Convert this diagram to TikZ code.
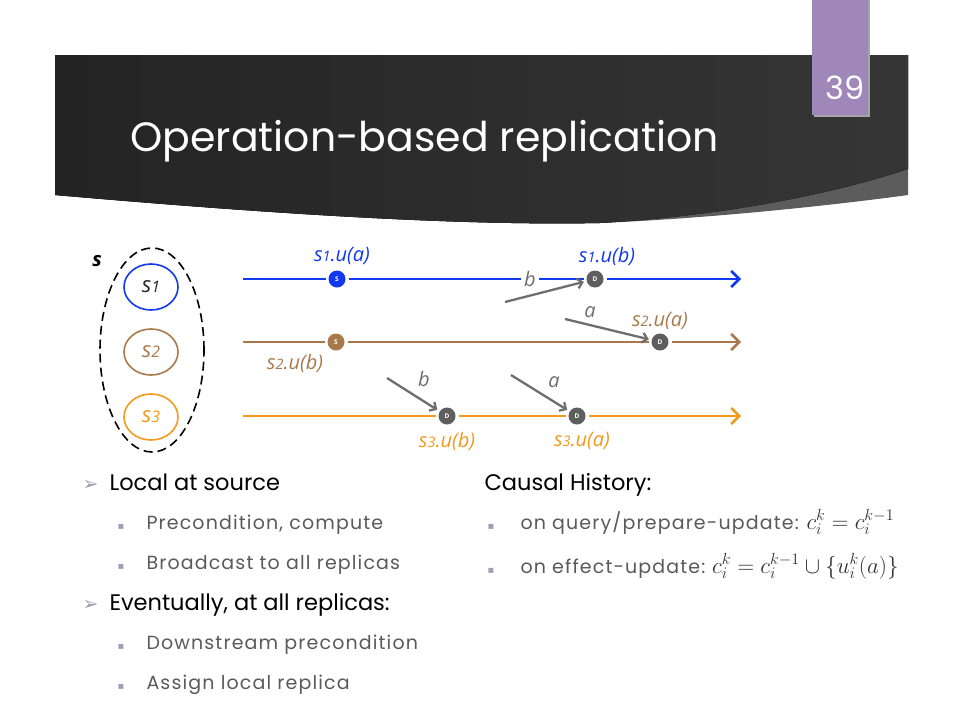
\RequirePackage{fix-cm}
\documentclass[tikz,border=0pt]{standalone}
\usepackage{fontspec}
\usetikzlibrary{positioning,arrows.meta,shapes.geometric}

\newfontfamily\gill{Open Sans}
\newfontfamily\symb{DejaVu Sans}
\newfontfamily\gothic{Poppins}
\newfontfamily\gothicwide[LetterSpace=6]{Poppins}
% small digits in place of old-style figures
\makeatletter
\newcommand\osf[1]{{\fontsize{\the\dimexpr.72\dimexpr\f@size pt\relax\relax}{0pt}\selectfont#1}}
\makeatother

\definecolor{bannerlight}{HTML}{5C5C5C}
\definecolor{tabpurple}{HTML}{9F87BA}
\definecolor{blueline}{HTML}{1238F0}
\definecolor{brownline}{HTML}{A87A4B}
\definecolor{orangeline}{HTML}{F39A1C}
\definecolor{msggray}{HTML}{6E6E6E}
\definecolor{dotgray}{HTML}{5E5E5E}
\definecolor{bulletgray}{HTML}{A39DB3}
\definecolor{subtext}{HTML}{5A5A5A}

\begin{document}
\begin{tikzpicture}[x=1pt,y=-1pt,
replica/.style={ellipse, line width=1.6pt, minimum width=54pt, minimum height=46pt, font=\gill\itshape\fontsize{22}{22}\selectfont},
evt/.style={circle, inner sep=0pt, minimum size=17pt, outer sep=3pt, text=white, font=\gill\bfseries\fontsize{6.5}{6.5}\selectfont},
lab/.style={font=\gill\itshape\fontsize{20}{20}\selectfont, inner sep=1pt},
msglab/.style={lab, text=msggray, fill=white, inner sep=3pt},
tl/.style={line width=2.5pt},
tlend/.style={tl, -{Straight Barb[length=8pt,width=16pt]}},
msg/.style={draw=msggray, line width=2.3pt, -{Straight Barb[length=5pt,width=10pt]}},
head/.style={font=\gothic\fontsize{22.5}{22.5}\selectfont, anchor=base west},
item/.style={font=\gothicwide\fontsize{19}{19}\selectfont, text=subtext, anchor=base west},
bul/.style={font=\symb\fontsize{19}{19}\selectfont, text=bulletgray, anchor=base west},
sq/.style={font=\symb\fontsize{10}{10}\selectfont, text=bulletgray, anchor=base west},
formula/.style={font=\fontsize{23}{23}\selectfont, text=black!80, anchor=base west, inner sep=0pt}
]
\useasboundingbox (0,0) rectangle (960,720);
\fill[white] (0,0) rectangle (960,720);

% title banner
\fill[bannerlight] (55,55) -- (908,55) -- (908,195)
  .. controls (850,203) and (720,218) .. (600,223)
  .. controls (450,226) and (250,212) .. (55,195) -- cycle;
\fill[left color=black!86, right color=black!79] (55,55) -- (908,55) -- (908,169)
  .. controls (830,195) and (720,216) .. (600,223)
  .. controls (450,226) and (250,212) .. (55,195) -- cycle;
\fill[black!35] (814,0) rectangle (870,117);
\fill[tabpurple] (812,0) rectangle (868,115);
\node[text=white, font=\gothic\fontsize{32}{32}\selectfont] (pagenum) at (845,88) {39};
\node[text=white, anchor=base west, font=\gothic\fontsize{41}{41}\selectfont] (title) at (127,151) {Operation-based replication};

% replica set
\node[draw, ellipse, dashed, dash pattern=on 9pt off 5pt, line width=1.6pt, minimum width=104pt, minimum height=204pt] (set) at (152,350) {};
\node[lab, font=\gill\itshape\bfseries\fontsize{20}{20}\selectfont] (setname) at (97,261) {s};
\node[replica, draw=blueline, text=black!85] (rep1) at (151,287) {s\osf{1}};
\node[replica, draw=brownline, text=brownline] (rep2) at (151,352) {s\osf{2}};
\node[replica, draw=orangeline, text=orangeline] (rep3) at (151,417) {s\osf{3}};

% timelines
\coordinate (start1) at (243,279);
\coordinate (end1) at (741,279);
\coordinate (start2) at (243,342);
\coordinate (end2) at (741,342);
\coordinate (start3) at (243,416);
\coordinate (end3) at (741,416);

\node[evt, fill=blueline](s1ua) at (337,279) {S};
\node[msglab](msgb1) at (530,279) {b};
\node[evt, fill=dotgray](s1ub) at (595,279) {D};
\node[evt, fill=brownline](s2ub) at (336,342) {S};
\node[evt, fill=dotgray](s2ua) at (660,342) {D};
\node[evt, fill=dotgray](s3ub) at (447,416) {D};
\node[evt, fill=dotgray](s3ua) at (577,416) {D};

\draw[tl, blueline] (start1) -- (s1ua) (s1ua) -- (msgb1) (msgb1) -- (s1ub);
\draw[tlend, blueline] (s1ub) -- (end1);
\draw[tl, brownline] (start2) -- (s2ub) (s2ub) -- (s2ua);
\draw[tlend, brownline] (s2ua) -- (end2);
\draw[tl, orangeline] (start3) -- (s3ub) (s3ub) -- (s3ua);
\draw[tlend, orangeline] (s3ua) -- (end3);

% labels
\node[lab, text=blueline](lab1a)[above=2pt of s1ua,xshift=5pt]{s\osf{1}.u(a)};
\node[lab, text=blueline](lab1b)[above=1pt of s1ub,xshift=12pt]{s\osf{1}.u(b)};
\node[lab, text=brownline](lab2a)[above=0pt of s2ua]{s\osf{2}.u(a)};
\node[lab, text=brownline](lab2b)[below=0pt of s2ub,xshift=-41pt]{s\osf{2}.u(b)};
\node[lab, text=orangeline](lab3b)[below=4pt of s3ub]{s\osf{3}.u(b)};
\node[lab, text=orangeline](lab3a)[below=4pt of s3ua,xshift=5pt]{s\osf{3}.u(a)};

% messages
\coordinate (from1) at (505,302);
\coordinate (from2) at (565,319);
\coordinate (from3) at (387,378);
\coordinate (from4) at (511,375);
\draw[msg] (from1) -- (s1ub);
\draw[msg] (from2) -- (s2ua);
\draw[msg] (from3) -- (s3ub);
\draw[msg] (from4) -- (s3ua);
\node[lab, text=msggray](msga2) at (590,312) {a};
\node[lab, text=msggray](msgb3) at (424,379) {b};
\node[lab, text=msggray](msga3) at (554,382) {a};

% left list
\node[bul](b1) at (79,490) {➢};
\node[head](h1) at (106,490) {Local at source};
\node[sq](q1) at (114,529) {▪};
\node[item](i1) at (143,529) {Precondition, compute};
\node[sq](q2) at (114,569) {▪};
\node[item](i2) at (143,569) {Broadcast to all replicas};
\node[bul](b2) at (79,610) {➢};
\node[head](h2) at (106,610) {Eventually, at all replicas:};
\node[sq](q3) at (114,649) {▪};
\node[item](i3) at (143,649) {Downstream precondition};
\node[sq](q4) at (114,689) {▪};
\node[item](i4) at (143,689) {Assign local replica};

% right list
\node[head](h3) at (481,490) {Causal History:};
\node[sq](q5) at (484,529) {▪};
\node[item](i5) at (517,529) {on query/prepare-update:};
\node[formula](f5)[right=4pt of i5.base east, anchor=base west]{$c_i^k = c_i^{k-1}$};
\node[sq](q6) at (484,573) {▪};
\node[item](i6) at (517,573) {on effect-update:};
\node[formula](f6)[right=3pt of i6.base east, anchor=base west]{$c_i^k = c_i^{k-1} \cup \{u_i^k(a)\}$};
\end{tikzpicture}
\end{document}
